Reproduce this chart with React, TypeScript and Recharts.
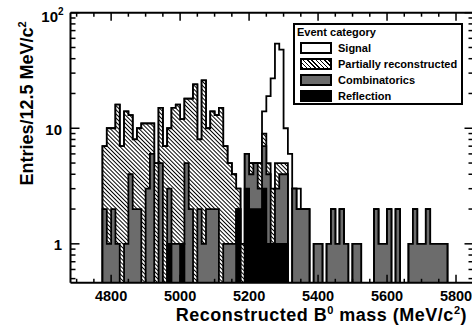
import React from "react";
import { Area, ComposedChart, ReferenceLine, XAxis, YAxis } from "recharts";

// lower edges of the 12.5 MeV/c^2 bins
const binLow = Array.from({ length: 82 }, (_, i) => 4775 + 12.5 * i);

const reflection = [
  0, 0, 0, 0, 0, 0, 0, 0, 0, 0, 0, 0, 0, 0, 0, 1, 0, 0, 1, 0,
  0, 0, 0, 0, 0, 0, 0, 0, 0, 0, 0, 2, 0, 3, 2, 2, 2, 3, 1, 1,
  1, 1, 1, 0, 0, 0, 0, 0, 0, 0, 0, 0, 0, 0, 0, 0, 0, 0, 0, 0,
  0, 0, 0, 0, 0, 0, 0, 0, 0, 0, 0, 0, 0, 0, 0, 0, 0, 0, 0, 0,
  0, 0,
];

const combinatorics = [
  2, 1, 2, 1, 0, 1, 4, 2, 2, 0, 3, 6, 0, 5, 0, 2, 1, 1, 0, 5,
  2, 0, 2, 1, 2, 2, 2, 0, 1, 1, 1, 0, 0, 3, 2, 3, 1, 4, 3, 0,
  2, 3, 3, 0, 3, 2, 2, 2, 0, 1, 1, 0, 1, 2, 1, 2, 1, 0, 1, 1,
  0, 0, 0, 2, 1, 1, 2, 0, 2, 0, 0, 1, 2, 1, 1, 2, 1, 1, 1, 1,
  0, 0,
];

const partial = [
  5, 9, 8, 15, 7, 13, 9, 6, 8, 11, 8, 5, 5, 10, 7, 7, 14, 15, 11, 13,
  16, 24, 6, 25, 8, 12, 11, 15, 6, 4, 3, 1, 1, 0, 1, 0, 2, 2, 1, 2,
  2, 1, 1, 0, 0, 0, 0, 0, 0, 0, 0, 0, 0, 0, 0, 0, 0, 0, 0, 0,
  0, 0, 0, 0, 0, 0, 0, 0, 0, 0, 0, 0, 0, 0, 0, 0, 0, 0, 0, 0,
  0, 0,
];

const signal = [
  0, 0, 0, 0, 0, 0, 0, 0, 0, 0, 0, 0, 0, 0, 0, 0, 0, 0, 0, 0,
  0, 0, 0, 0, 0, 0, 0, 0, 0, 0, 0, 0, 0, 0, 0, 0, 0, 5, 14, 24,
  49, 43, 5, 6, 0, 1, 0, 0, 0, 0, 0, 0, 0, 0, 0, 0, 0, 0, 0, 0,
  0, 0, 0, 0, 0, 0, 0, 0, 0, 0, 0, 0, 0, 0, 0, 0, 0, 0, 0, 0,
  0, 0,
];

const xTicks = [
  4700, 4750, 4800, 4850, 4900, 4950, 5000, 5050, 5100, 5150, 5200, 5250,
  5300, 5350, 5400, 5450, 5500, 5550, 5600, 5650, 5700, 5750, 5800, 5850,
];
const xLabels = [4800, 5000, 5200, 5400, 5600, 5800];
const yTicks = [
  0.5, 0.6, 0.7, 0.8, 0.9, 1, 2, 3, 4, 5, 6, 7, 8, 9, 10,
  20, 30, 40, 50, 60, 70, 80, 90, 100,
];
const yLabels = [1, 10, 100];

const legendItems = [
  { name: "Signal", kind: "signal" },
  { name: "Partially reconstructed", kind: "partial" },
  { name: "Combinatorics", kind: "comb" },
  { name: "Reflection", kind: "refl" },
];

const GRAY = "#6c6c6c";
const FONT = '"Liberation Sans", Arial, Helvetica, sans-serif';
const FLOOR = 0.01; // empty bins, drawn below the axis and clipped
const X_DOMAIN: [number, number] = [4682.2, 5850.7];
const PLOT_W = 403;
const PLOT_H = 270.1;

// cumulative stack levels (reflection at the bottom, signal on top)
const rows: any[] = [];
const lvl = (i: number) => {
  const r = reflection[i];
  const c = r + combinatorics[i];
  const p = c + partial[i];
  const s = p + signal[i];
  return { t1: r || FLOOR, t2: c || FLOOR, t3: p || FLOOR, t4: s || FLOOR };
};
const empty = { t1: FLOOR, t2: FLOOR, t3: FLOOR, t4: FLOOR };
rows.push({ m: binLow[0], ...empty });
binLow.forEach((m, i) => rows.push({ m, ...lvl(i) }));
const lastEdge = binLow[binLow.length - 1] + 12.5;
rows.push({ m: lastEdge, ...lvl(binLow.length - 1) });
rows.push({ m: lastEdge, ...empty });

const XTick = ({ x, y, payload }: any) => {
  const v = payload.value;
  const major = xLabels.includes(v);
  const len = major ? 8 : 4;
  return (
    <g>
      <line x1={x} x2={x} y1={y} y2={y - len} stroke="#000" strokeWidth={1.5} />
      <line x1={x} x2={x} y1={y - PLOT_H} y2={y - PLOT_H + len} stroke="#000" strokeWidth={1.5} />
      {major && (
        <text x={x} y={y + 18.5} textAnchor="middle" fontSize={14.5} fontWeight="bold" fontFamily={FONT} fill="#000">
          {v}
        </text>
      )}
    </g>
  );
};

const YTick = ({ x, y, payload }: any) => {
  const v = payload.value;
  const major = yLabels.includes(v);
  const len = major ? 9 : 5;
  let label = null;
  if (v === 100) {
    label = (
      <g fontWeight="bold" fontFamily={FONT} fill="#000">
        <text x={x - 12.5} y={y + 9} textAnchor="end" fontSize={15}>10</text>
        <text x={x - 12.5} y={y + 2.5} fontSize={10}>2</text>
      </g>
    );
  } else if (major) {
    label = (
      <text x={x - 8.5} y={y + 6.5} textAnchor="end" fontSize={15} fontWeight="bold" fontFamily={FONT} fill="#000">
        {v}
      </text>
    );
  }
  return (
    <g>
      <line x1={x} x2={x + len} y1={y} y2={y} stroke="#000" strokeWidth={1.5} />
      <line x1={x + PLOT_W} x2={x + PLOT_W - len} y1={y} y2={y} stroke="#000" strokeWidth={1.5} />
      {label}
    </g>
  );
};

const swatch = (kind: string) => {
  const base: React.CSSProperties = {
    position: "absolute",
    left: 5,
    top: 0,
    width: 32,
    height: 12,
    border: "2px solid #000",
    boxSizing: "border-box",
  };
  if (kind === "signal") return { ...base, background: "#fff" };
  if (kind === "partial")
    return { ...base, background: "repeating-linear-gradient(45deg, #000 0 1px, #fff 1px 3px)" };
  if (kind === "comb") return { ...base, background: GRAY };
  return { ...base, background: "#000" };
};

export default function App() {
  return (
    <div
      style={{
        position: "absolute",
        left: 0,
        top: 0,
        width: 472,
        height: 329,
        overflow: "hidden",
        background: "#fff",
        fontFamily: FONT,
      }}
    >
      <svg width={0} height={0} style={{ position: "absolute" }}>
        <defs>
          <pattern id="hatch" patternUnits="userSpaceOnUse" width={6} height={2.9} patternTransform="rotate(45)">
            <rect width={6} height={2.9} fill="#fff" />
            <line x1={0} x2={6} y1={1.45} y2={1.45} stroke="#000" strokeWidth={1} />
          </pattern>
        </defs>
      </svg>

      <ComposedChart
        width={476}
        height={329}
        data={rows}
        margin={{ top: 12.7, right: 2.5, bottom: 16.2, left: 0 }}
      >
        <Area
          dataKey="t4"
          type="stepAfter"
          stroke="#000"
          strokeWidth={1.8}
          fill="#fff"
          fillOpacity={1}
          dot={false}
          activeDot={false}
          isAnimationActive={false}
        />
        <Area
          dataKey="t3"
          type="stepAfter"
          stroke="#000"
          strokeWidth={1.8}
          fill="url(#hatch)"
          fillOpacity={1}
          dot={false}
          activeDot={false}
          isAnimationActive={false}
        />
        <Area
          dataKey="t2"
          type="stepAfter"
          stroke="#000"
          strokeWidth={1.8}
          fill={GRAY}
          fillOpacity={1}
          dot={false}
          activeDot={false}
          isAnimationActive={false}
        />
        <Area
          dataKey="t1"
          type="stepAfter"
          stroke="#000"
          strokeWidth={1.8}
          fill="#000"
          fillOpacity={1}
          dot={false}
          activeDot={false}
          isAnimationActive={false}
        />
        <XAxis
          dataKey="m"
          type="number"
          domain={X_DOMAIN}
          allowDataOverflow
          ticks={xTicks}
          interval={0}
          height={30}
          tickSize={0}
          tickMargin={0}
          tickLine={false}
          axisLine={{ stroke: "#000", strokeWidth: 2 }}
          tick={(p: any) => <XTick {...p} />}
        />
        <YAxis
          type="number"
          scale="log"
          domain={[0.46, 100]}
          allowDataOverflow
          ticks={yTicks}
          interval={0}
          width={70.5}
          tickSize={0}
          tickMargin={0}
          tickLine={false}
          axisLine={{ stroke: "#000", strokeWidth: 2 }}
          tick={(p: any) => <YTick {...p} />}
        />
        <ReferenceLine y={100} stroke="#000" strokeWidth={2} />
        <ReferenceLine x={X_DOMAIN[1]} stroke="#000" strokeWidth={2} />
      </ComposedChart>

      <svg width={472} height={329} style={{ position: "absolute", left: 0, top: 0, pointerEvents: "none" }}>
        <text
          x={467}
          y={321}
          textAnchor="end"
          fontSize={18}
          letterSpacing={0.5}
          fontWeight="bold"
          fontFamily={FONT}
          fill="#000"
        >
          Reconstructed B<tspan dy={-7} fontSize={11}>0</tspan>
          <tspan dy={7}> mass (MeV/c</tspan>
          <tspan dy={-7} fontSize={11}>2</tspan>
          <tspan dy={7}>)</tspan>
        </text>
        <text
          transform="translate(33,103.5) rotate(-90)"
          textAnchor="middle"
          fontSize={18}
          fontWeight="bold"
          fontFamily={FONT}
          fill="#000"
        >
          Entries/12.5 MeV/c<tspan dy={-7} fontSize={11}>2</tspan>
        </text>
      </svg>

      <div
        style={{
          position: "absolute",
          left: 293,
          top: 23,
          width: 170,
          height: 82,
          border: "2px solid #000",
          boxSizing: "border-box",
          background: "#fff",
          fontWeight: "bold",
          fontSize: 11,
          color: "#000",
        }}
      >
        <div style={{ position: "absolute", left: 2, top: 1, lineHeight: "12px" }}>Event category</div>
        {legendItems.map((it, k) => (
          <div key={it.name} style={{ position: "absolute", left: 0, top: 16.5 + k * 16.3, width: 166, height: 12 }}>
            <div style={swatch(it.kind)} />
            <div style={{ position: "absolute", left: 43, top: 0, lineHeight: "12px", whiteSpace: "nowrap" }}>
              {it.name}
            </div>
          </div>
        ))}
      </div>
    </div>
  );
}
